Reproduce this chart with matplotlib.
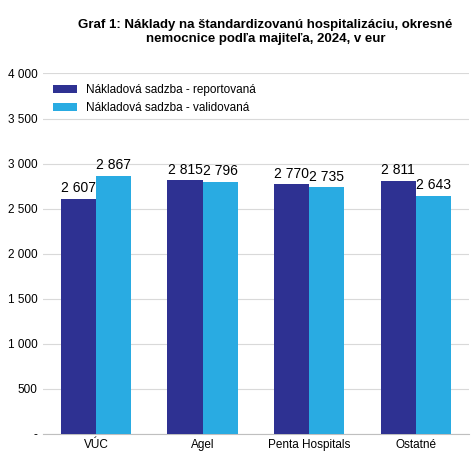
import matplotlib.pyplot as plt
import numpy as np

categories = ['VÚC', 'Agel', 'Penta Hospitals', 'Ostatné']
reportovana = [2607, 2815, 2770, 2811]
validovana = [2867, 2796, 2735, 2643]
yticks = [0, 500, 1000, 1500, 2000, 2500, 3000, 3500, 4000]

def fmt(v):
    return '-' if v == 0 else '{:,}'.format(v).replace(',', ' ')

plt.rcParams['font.family'] = ['Liberation Sans', 'DejaVu Sans']
fig = plt.figure(figsize=(4.74, 4.74), dpi=100)
ax = fig.add_axes([0.09, 0.085, 0.9, 0.76])

x = np.arange(len(categories))
w = 0.33
b1 = ax.bar(x - w/2, reportovana, w, color='#2E3192', label='Nákladová sadzba - reportovaná', zorder=3)
b2 = ax.bar(x + w/2, validovana, w, color='#29ABE2', label='Nákladová sadzba - validovaná', zorder=3)
for bars in (b1, b2):
    for r in bars:
        ax.text(r.get_x() + r.get_width()/2, r.get_height() + 40, fmt(int(r.get_height())),
                ha='center', va='bottom', fontsize=10)

ax.set_ylim(0, 4000)
ax.set_xlim(-0.5, 3.5)
ax.set_yticks(yticks)
ax.set_yticklabels([fmt(v) for v in yticks], fontsize=8.5)
ax.set_xticks(x)
ax.set_xticklabels(categories, fontsize=8.5)
ax.yaxis.grid(True, color='#d9d9d9', linewidth=0.8, zorder=0)
for s in ['top', 'right', 'left']:
    ax.spines[s].set_visible(False)
ax.spines['bottom'].set_color('#bfbfbf')
ax.tick_params(axis='y', length=0)
ax.tick_params(axis='x', length=0)
ax.legend(loc='upper left', frameon=False, fontsize=8.5, bbox_to_anchor=(0.0, 1.0))

fig.suptitle('Graf 1: Náklady na štandardizovanú hospitalizáciu, okresné\nnemocnice podľa majiteľa, 2024, v eur',
             x=0.56, y=0.96, fontsize=9.5, fontweight='bold')
fig.savefig('out.png', dpi=100)
